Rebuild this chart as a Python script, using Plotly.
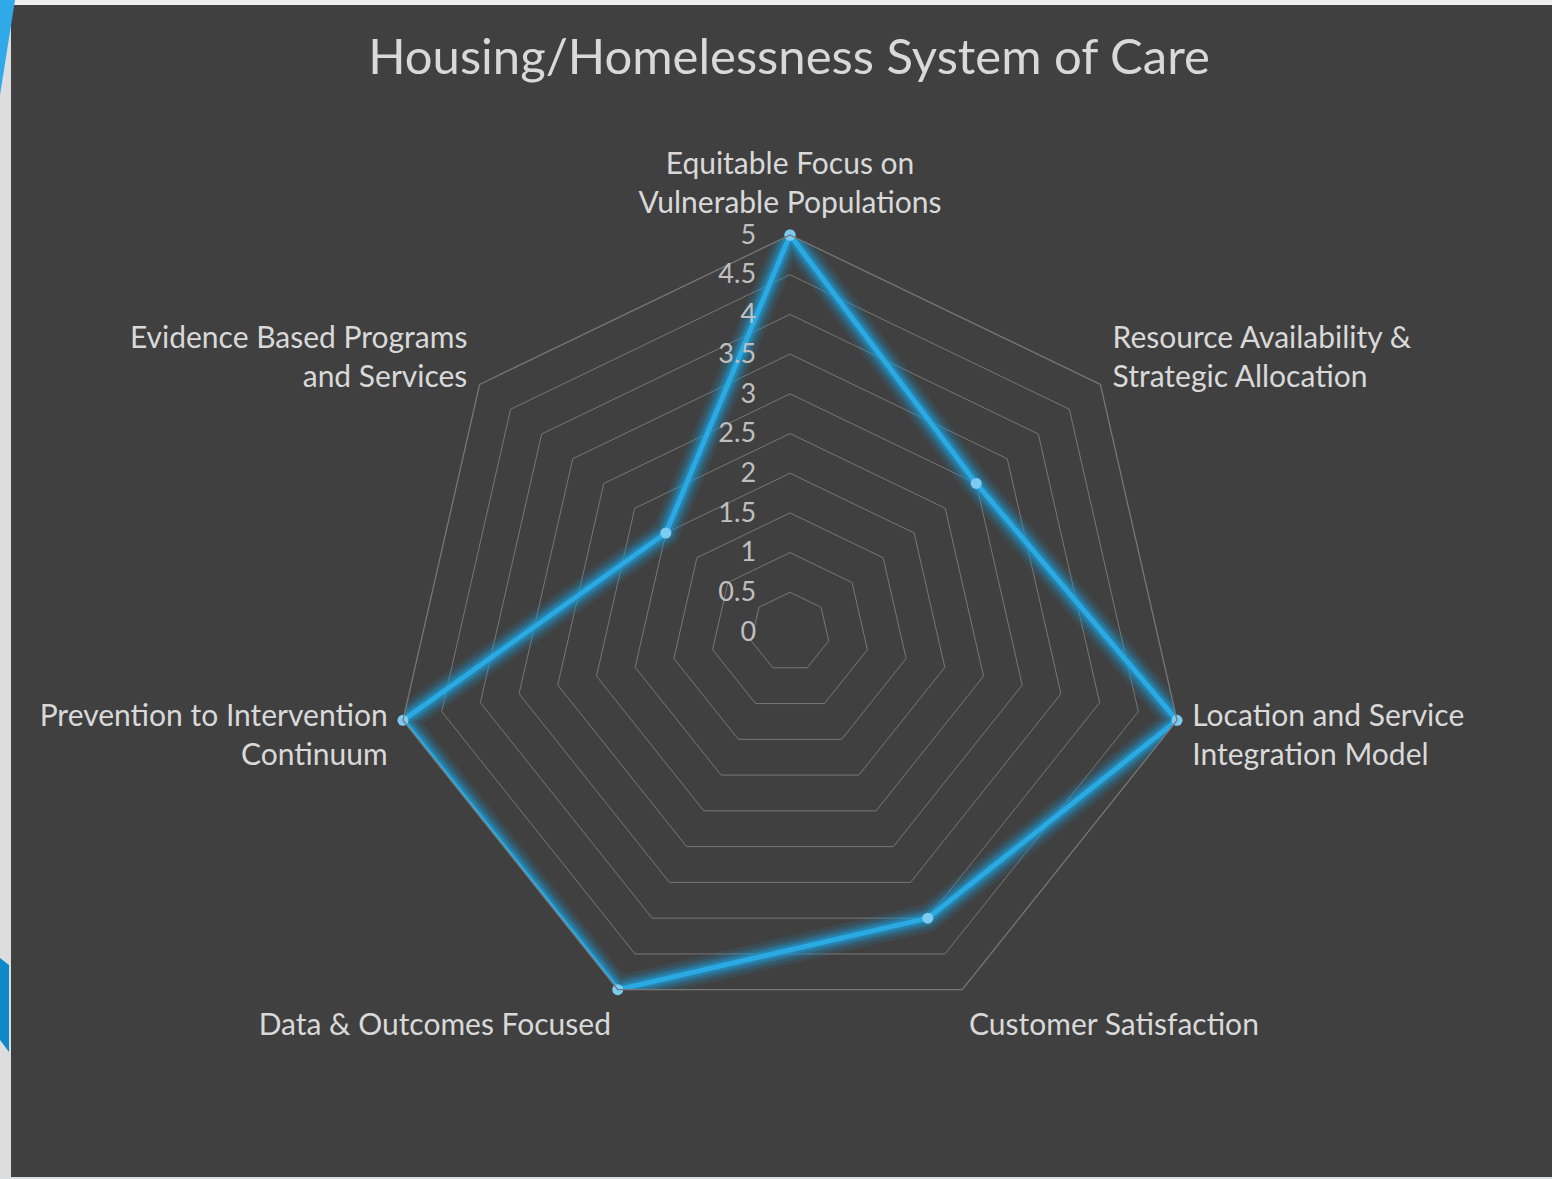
import plotly.graph_objects as go

categories = [
    "Equitable Focus on<br>Vulnerable Populations",
    "Resource Availability &<br>Strategic Allocation",
    "Location and Service<br>Integration Model",
    "Customer Satisfaction",
    "Data & Outcomes Focused",
    "Prevention to Intervention<br>Continuum",
    "Evidence Based Programs<br>and Services",
]
scores = [5, 3, 5, 4, 5, 5, 2]
radial_ticks = [0, 0.5, 1, 1.5, 2, 2.5, 3, 3.5, 4, 4.5, 5]
radial_tick_labels = ["0", "0.5", "1", "1.5", "2", "2.5", "3", "3.5", "4", "4.5", "5"]
title_text = "Housing/Homelessness System of Care"

W, H = 1552, 1179
r_closed = scores + scores[:1]
theta_closed = categories + categories[:1]

fig = go.Figure()
# glow layers
for w, a in [(28, 0.12), (21, 0.2), (15, 0.32), (10, 0.5)]:
    fig.add_trace(go.Scatterpolar(
        r=r_closed, theta=theta_closed, mode="lines",
        line=dict(color=f"rgba(30,150,205,{a})", width=w),
        hoverinfo="skip", showlegend=False,
    ))
fig.add_trace(go.Scatterpolar(
    r=r_closed, theta=theta_closed, mode="lines+markers",
    line=dict(color="#2AA9E3", width=5),
    marker=dict(size=11, color="#7CCBF2", line=dict(width=0)),
    showlegend=False,
))

cx, cy, R = 790, 632, 397
fig.update_layout(
    width=W, height=H,
    margin=dict(l=0, r=0, t=0, b=0),
    paper_bgcolor="#404040",
    font=dict(family="Lato, sans-serif", color="#D9D9D9"),
    title=dict(text=title_text, x=789 / W, xanchor="center", y=1 - 57 / H, yanchor="middle",
               font=dict(size=49, color="#D9D9D9", family="Lato, sans-serif")),
    polar=dict(
        domain=dict(x=[(cx - R) / W, (cx + R) / W], y=[1 - (cy + R) / H, 1 - (cy - R) / H]),
        bgcolor="rgba(0,0,0,0)",
        gridshape="linear",
        radialaxis=dict(
            range=[0, 5], tickvals=radial_ticks, ticktext=radial_tick_labels,
            angle=90, tickangle=90, side="counterclockwise",
            showline=False, ticks="outside", ticklen=24, tickcolor="rgba(0,0,0,0)",
            gridcolor="#777777", gridwidth=1.3,
            tickfont=dict(size=27, color="#BFBFBF", family="Lato, sans-serif"),
        ),
        angularaxis=dict(
            rotation=90, direction="clockwise",
            showgrid=False, showline=True, linecolor="#777777", linewidth=1.3,
            ticks="outside", ticklen=9, tickcolor="rgba(0,0,0,0)",
            tickfont=dict(size=30, color="#D9D9D9", family="Lato, sans-serif"),
        ),
    ),
    shapes=[
        dict(type="rect", xref="paper", yref="paper", x0=0, x1=11 / W, y0=0, y1=1,
             fillcolor="#DCDDDE", line=dict(width=0), layer="above"),
        dict(type="rect", xref="paper", yref="paper", x0=0, x1=1, y0=1 - 5 / H, y1=1,
             fillcolor="#ECEDED", line=dict(width=0), layer="above"),
        dict(type="rect", xref="paper", yref="paper", x0=0, x1=1, y0=0, y1=2 / H,
             fillcolor="#DCDDDE", line=dict(width=0), layer="above"),
        dict(type="path", xref="paper", yref="paper",
             path=f"M 0 1 L {15 / W} 1 L 0 {1 - 95 / H} Z",
             fillcolor="#2FA9E8", line=dict(width=0), layer="above"),
        dict(type="path", xref="paper", yref="paper",
             path=f"M 0 {1 - 958 / H} L {9 / W} {1 - 965 / H} L {9 / W} {1 - 1052 / H} L 0 {1 - 1040 / H} Z",
             fillcolor="#1088C8", line=dict(width=0), layer="above"),
    ],
)

fig.write_html("out.html", config={"displayModeBar": False},
               post_script="document.body.style.margin='0px';")
